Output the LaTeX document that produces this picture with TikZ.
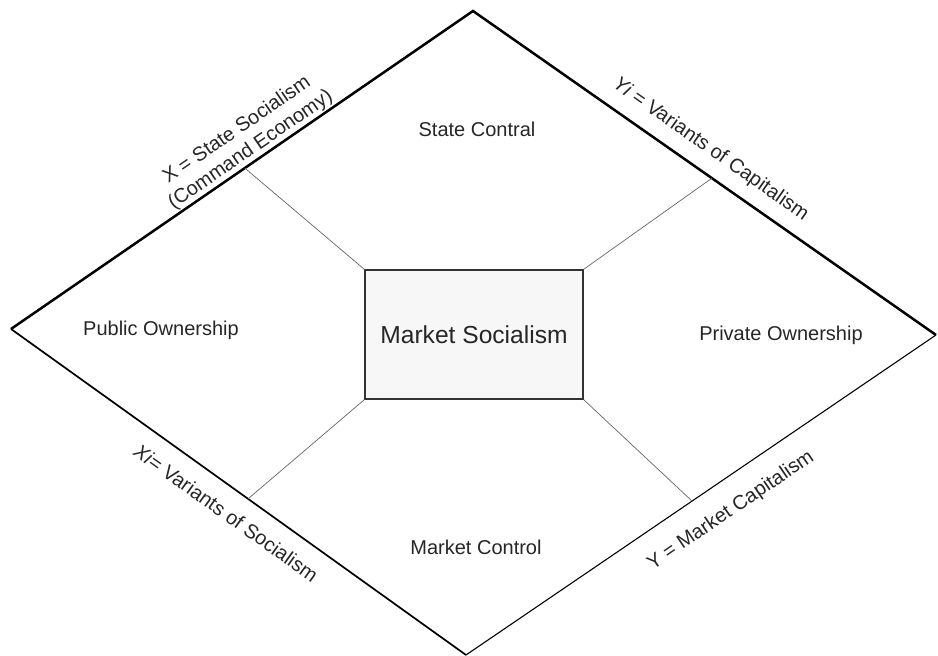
\documentclass[tikz,border=0pt]{standalone}
\usepackage{fontspec}
\setmainfont{Liberation Sans}
\usetikzlibrary{calc}

\begin{document}
\begin{tikzpicture}[
  x=0.5pt, y=-0.5pt,
  region/.style={font=\fontsize{10}{12}\selectfont, text=black!85},
  core/.style={rectangle, draw=black!80, fill=black!3, line width=0.7pt, minimum width=109pt, minimum height=64.5pt, font=\fontsize{12.3}{14}\selectfont, text=black!85},
  side/.style={sloped, font=\fontsize{10}{12}\selectfont, text=black!85, align=center},
  spoke/.style={draw=black!60, line width=0.35pt}
]
\useasboundingbox (0,0) rectangle (938,656);
% corners of the diamond
\coordinate (left) at (11,329);
\coordinate (top) at (473,11);
\coordinate (right) at (936,335);
\coordinate (bottom) at (466,655);

\node[core] (market) at (474,334.5) {Market Socialism};

\node[region] (state) at (477,129) {State Contral};
\node[region] (public) at (161,330) {Public Ownership};
\node[region] (private) at (781,335) {Private Ownership};
\node[region] (control) at (476,547) {Market Control};

% outline with the four labels
\draw[line width=1.25pt, line join=miter] (left)
  -- node[side, above, pos=0.533, inner sep=0.5pt]{X = State Socialism\\(Command Economy)} (top)
  -- node[side, above, pos=0.485, inner sep=6pt]{\textit{Yi} = Variants of Capitalism} (right);
\draw[line width=0.85pt] (left) -- node[side, below, pos=0.504, inner sep=8pt]{\textit{Xi}= Variants of Socialism} (bottom);
\draw[line width=0.55pt] (bottom) -- node[side, below, pos=0.528, inner sep=10pt]{Y = Market Capitalism} (right);

% spokes from the box to the sides
\coordinate (ul) at ($(left)!0.506!(top)$);
\coordinate (ur) at ($(top)!0.516!(right)$);
\coordinate (ll) at ($(left)!0.521!(bottom)$);
\coordinate (lr) at ($(bottom)!0.481!(right)$);
\draw[spoke] (market.north west) -- (ul);
\draw[spoke] (market.north east) -- (ur);
\draw[spoke] (market.south west) -- (ll);
\draw[spoke] (market.south east) -- (lr);
\end{tikzpicture}
\end{document}
